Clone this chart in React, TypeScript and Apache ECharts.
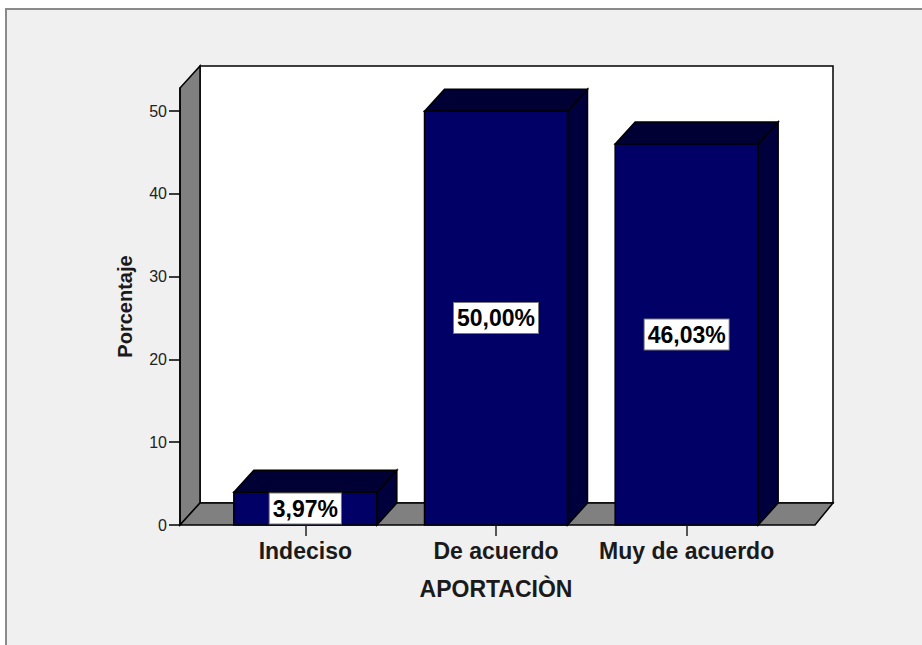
import React, { useEffect, useRef } from "react";
import * as echarts from "echarts";

const categories = ["Indeciso", "De acuerdo", "Muy de acuerdo"];
const percentages = [3.97, 50.0, 46.03];
const yTicks = [0, 10, 20, 30, 40, 50];
const yAxisName = "Porcentaje";
const xAxisName = "APORTACIÒN";

const FONT = "'Liberation Sans', Arial, sans-serif";

export default function App() {
  const ref = useRef<HTMLDivElement>(null);
  useEffect(() => {
    if (!ref.current) return;
    const chart = echarts.init(ref.current, null, { renderer: "svg" });
    const DX = 20;
    const DY = -22;
    const gL = 210, gR = 782, gT = 88, gB = 525;
    const floorL = 180, floorR = 815;
    const option: any = {
      animation: false,
      backgroundColor: "#ffffff",
      textStyle: { fontFamily: FONT },
      grid: { left: gL, right: 922 - gR, top: gT, bottom: 645 - gB },
      graphic: [
        {
          type: "rect",
          z: 0,
          shape: { x: 6, y: 9, width: 960, height: 700 },
          style: { fill: "#f0f0f0", stroke: "#8a8a8a", lineWidth: 2 },
        },
        {
          type: "polygon",
          z: 1,
          shape: { points: [[floorL + DX, gT + DY], [floorR + 18, gT + DY], [floorR + 18, gB + DY], [floorL + DX, gB + DY]] },
          style: { fill: "#ffffff", stroke: "#000000", lineWidth: 1.5 },
        },
        {
          type: "polygon",
          z: 1,
          shape: { points: [[floorL, gT], [floorL + DX, gT + DY], [floorL + DX, gB + DY], [floorL, gB]] },
          style: { fill: "#808080", stroke: "#000000", lineWidth: 1.5 },
        },
        {
          type: "polygon",
          z: 1,
          shape: { points: [[floorL, gB], [floorL + DX, gB + DY], [floorR + 18, gB + DY], [floorR, gB]] },
          style: { fill: "#808080", stroke: "#000000", lineWidth: 1.5 },
        },
      ],
      xAxis: {
        type: "category",
        data: categories,
        z: 3,
        axisLine: { show: false },
        axisTick: { show: true, alignWithLabel: true, length: 11, lineStyle: { color: "#555555", width: 2 } },
        axisLabel: { interval: 0, hideOverlap: false, fontSize: 23, fontWeight: "bold", color: "#1a1a1a", margin: 14, fontFamily: FONT },
        name: xAxisName,
        nameLocation: "middle",
        nameGap: 52,
        nameTextStyle: { fontSize: 23, fontWeight: "bold", color: "#1a1a1a", fontFamily: FONT },
        splitLine: { show: false },
      },
      yAxis: {
        type: "value",
        min: 0,
        max: 52.8,
        offset: 30,
        z: 3,
        axisLine: { show: true, lineStyle: { color: "#000000", width: 1.5 } },
        axisTick: { show: true, length: 11, customValues: yTicks, lineStyle: { color: "#000000", width: 1.5 } },
        axisLabel: { customValues: yTicks, fontSize: 16, color: "#222222", margin: 13, fontFamily: FONT },
        splitLine: { show: false },
        name: yAxisName,
        nameLocation: "middle",
        nameGap: 45,
        nameTextStyle: { fontSize: 20, fontWeight: "bold", color: "#1a1a1a", fontFamily: FONT },
      },
      series: [
        {
          type: "custom",
          z: 10,
          data: percentages.map((v, i) => [i, v]),
          encode: { x: 0, y: 1 },
          renderItem: (params: any, api: any) => {
            const idx = api.value(0);
            const val = api.value(1);
            const base = api.coord([idx, 0]);
            const top = api.coord([idx, val]);
            const band = api.size([1, 0])[0];
            const w = band * 0.75;
            const x = base[0] - w / 2;
            const ty = top[1];
            const by = base[1];
            const edge = { stroke: "#000000", lineWidth: 1.5 };
            const label = val.toFixed(2).replace(".", ",") + "%";
            return {
              type: "group",
              children: [
                {
                  type: "polygon",
                  shape: { points: [[x + w, ty], [x + w + DX, ty + DY], [x + w + DX, by + DY], [x + w, by]] },
                  style: { fill: "#00003d", ...edge },
                },
                {
                  type: "polygon",
                  shape: { points: [[x, ty], [x + DX, ty + DY], [x + w + DX, ty + DY], [x + w, ty]] },
                  style: { fill: "#000035", ...edge },
                },
                {
                  type: "rect",
                  shape: { x, y: ty, width: w, height: by - ty },
                  style: { fill: "#000066", ...edge },
                },
                {
                  type: "text",
                  x: base[0],
                  y: (ty + by) / 2,
                  style: {
                    text: label,
                    fontSize: 23,
                    fontWeight: "bold",
                    fontFamily: FONT,
                    fill: "#000000",
                    align: "center",
                    verticalAlign: "middle",
                    backgroundColor: "#ffffff",
                    borderColor: "#777777",
                    borderWidth: 1,
                    padding: [4, 3, 3, 3],
                  },
                },
              ],
            };
          },
        },
      ],
    };
    chart.setOption(option);
    return () => chart.dispose();
  }, []);
  return (
    <div
      ref={ref}
      style={{ position: "absolute", left: 0, top: 0, width: 922, height: 645 }}
    />
  );
}
